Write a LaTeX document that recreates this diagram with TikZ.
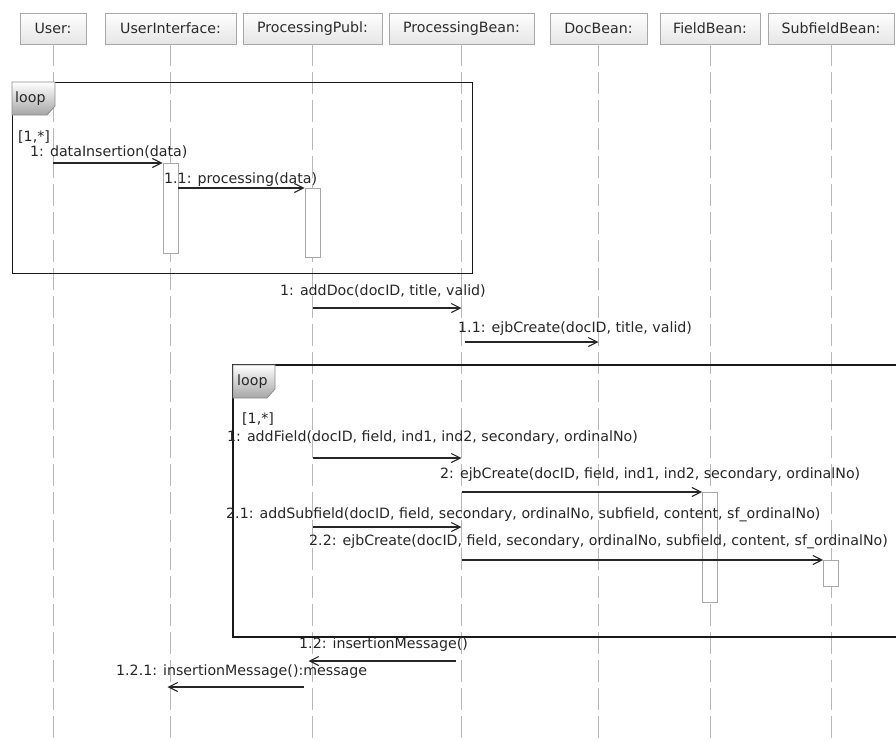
\documentclass[tikz,border=0pt]{standalone}
\usepackage{fontspec}
\setmainfont{DejaVu Sans}
\usetikzlibrary{arrows.meta}
\definecolor{lifegray}{HTML}{B8B8B8}
\definecolor{boxgray}{HTML}{A8A8A8}
\definecolor{txtgray}{HTML}{2A2A2A}
\tikzset{
  hdr/.style={draw=boxgray, line width=0.9pt, top color=white, bottom color=black!10,
    minimum height=31pt, inner sep=0pt, text=txtgray},
  lifeline/.style={draw=lifegray, line width=1pt, dash pattern=on 22pt off 6pt},
  act/.style={draw=boxgray, fill=white, line width=0.9pt, minimum width=15pt, inner sep=0pt, anchor=north},
  msg/.style={draw=black!85, line width=1.1pt, -{Straight Barb[length=9pt,width=9pt,line width=1.1pt]}},
  lbl/.style={anchor=west, inner sep=0pt, text=black!85},
  frame/.style={draw=black!90, line width=1.4pt},
  tab/.style={draw=black!45, line width=0.8pt, top color=white, bottom color=black!35}
}
\begin{document}
\begin{tikzpicture}[x=1pt, y=-1pt, font=\fontsize{14.2}{16}\selectfont]
\useasboundingbox (0,0) rectangle (896,740);

% lifeline heads
\node[hdr, minimum width=66pt]  (user)  at (53,28.5)  {User:};
\node[hdr, minimum width=131pt] (ui)    at (170.5,28.5) {UserInterface:};
\node[hdr, minimum width=139pt] (ppub)  at (312.5,28.5) {ProcessingPubl:};
\node[hdr, minimum width=145pt] (pbean) at (461.5,28.5) {ProcessingBean:};
\node[hdr, minimum width=97pt]  (doc)   at (598.5,28.5) {DocBean:};
\node[hdr, minimum width=100pt] (field) at (710,28.5) {FieldBean:};
\node[hdr, minimum width=126pt] (subf)  at (831,28.5) {SubfieldBean:};

% dashed lifelines
\foreach \n in {user,ui,ppub,pbean,doc,field,subf}
  \draw[lifeline] (\n.south) -- (\n.south |- 0,742);

% activation bars
\node[act, minimum height=90pt]  (aUI) at (ui.south |- 0,163) {};
\node[act, minimum height=69pt]  (aPP) at (ppub.south |- 0,188) {};
\node[act, minimum height=110pt] (aFB) at (field.south |- 0,492) {};
\node[act, minimum height=26pt]  (aSB) at (subf.south |- 0,560) {};

% first combined fragment
\node[frame, anchor=north west, minimum width=460pt, minimum height=191pt, inner sep=0pt] (loopA) at (12,82) {};
\path[tab] (loopA.north west) -- ++(43,0) -- ++(0,24) -- ++(-8,9) -- ++(-35,0) -- cycle;
\node[lbl] (loopAname) at (15,99) {loop};
\node[lbl] (loopAguard) at (18,137) {[1,*]};

% second combined fragment (runs past the right edge)
\coordinate (fB1) at (900,365);
\coordinate (fB2) at (233,365);
\coordinate (fB3) at (233,637);
\coordinate (fB4) at (900,637);
\draw[frame] (fB1) -- (fB2) -- (fB3) -- (fB4);
\path[tab] (fB2) -- ++(42,0) -- ++(0,24) -- ++(-8,9) -- ++(-34,0) -- cycle;
\node[lbl] (loopBname) at (237,382) {loop};
\node[lbl] (loopBguard) at (242,419) {[1,*]};

% messages inside the first loop
\node[lbl] (m1) at (30,152) {1: dataInsertion(data)};
\draw[msg] (user.south |- 0,163) -- (aUI.north west);
\node[lbl] (m2) at (164,180) {1.1: processing(data)};
\draw[msg] (aUI.east |- 0,188) -- (aPP.north west);

% document creation
\node[lbl] (m3) at (280,291) {1: addDoc(docID, title, valid)};
\draw[msg] (ppub.south |- 0,308) -- (pbean.south |- 0,308);
\node[lbl] (m4) at (458,329) {1.1: ejbCreate(docID, title, valid)};
\draw[msg] ([xshift=3pt]pbean.south |- 0,342) -- (doc.south |- 0,342);

% messages inside the second loop
\node[lbl] (m5) at (227,438) {1: addField(docID, field, ind1, ind2, secondary, ordinalNo)};
\draw[msg] (ppub.south |- 0,458) -- (pbean.south |- 0,458);
\node[lbl] (m6) at (440,475) {2: ejbCreate(docID, field, ind1, ind2, secondary, ordinalNo)};
\draw[msg] (pbean.south |- 0,492) -- (aFB.north west);
\node[lbl] (m7) at (226,515) {2.1: addSubfield(docID, field, secondary, ordinalNo, subfield, content, sf\_ordinalNo)};
\draw[msg] (ppub.south |- 0,527) -- (pbean.south |- 0,527);
\node[lbl] (m8) at (309,542) {2.2: ejbCreate(docID, field, secondary, ordinalNo, subfield, content, sf\_ordinalNo)};
\draw[msg] (pbean.south |- 0,560) -- (aSB.north west);

% replies
\node[lbl] (m9) at (299,645) {1.2: insertionMessage()};
\draw[msg] ([xshift=-6pt]pbean.south |- 0,661) -- ([xshift=-4pt]ppub.south |- 0,661);
\node[lbl] (m10) at (116,672) {1.2.1: insertionMessage():message};
\draw[msg] ([xshift=-9pt]ppub.south |- 0,687) -- ([xshift=-3pt]ui.south |- 0,687);
\end{tikzpicture}
\end{document}
